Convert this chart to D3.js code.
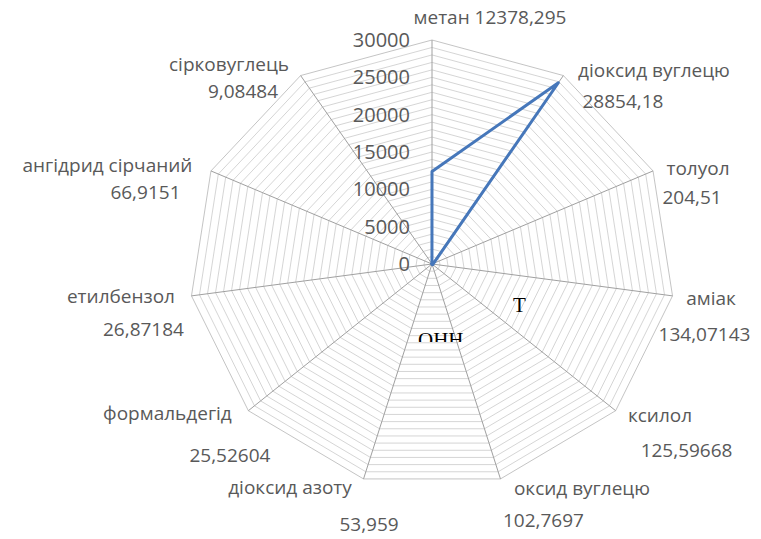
<!DOCTYPE html>
<html><head><meta charset="utf-8">
<script src="https://cdn.jsdelivr.net/npm/d3@7"></script>
<style>html,body{margin:0;padding:0;background:#fff;}svg{display:block;}</style>
</head><body>
<svg id="chart" width="761" height="539"></svg>
<script>
// ---- data ----
const categories = ["метан","діоксид вуглецю","толуол","аміак","ксилол","оксид вуглецю","діоксид азоту","формальдегід","етилбензол","ангідрид сірчаний","сірковуглець"];
const values = [12378.295, 28854.18, 204.51, 134.07143, 125.59668, 102.7697, 53.959, 25.52604, 26.87184, 66.9151, 9.08484];
const tickValues = [0, 5000, 10000, 15000, 20000, 25000, 30000];
const gridStep = 1000;
const maxValue = 30000;
// label layout: [nameDx, nameDy, valueDx, valueDy] relative to outer vertex (null value offset = same line)
const labelLayout = [
  [58, -16, null, null],
  [90.6, 1.5, 59.6, 32.5],
  [45, 4, 39, 33],
  [38.5, 9, 32, 45],
  [44.4, 11.3, 70.9, 46.3],
  [81.5, 16.1, 43, 48.1],
  [-73.5, 15.1, 5.5, 52.1],
  [-80.9, 9.3, -18.4, 51.3],
  [-70.5, 7.1, -48, 40.1],
  [-103.5, 1, -65.5, 28],
  [-71.6, -5, -57.6, 22.5]
];

const svg = d3.select("#chart");
const cx = 432, cy = 264, rx = 243, ry = 224;
const n = categories.length;
const r = d3.scaleLinear().domain([0, maxValue]).range([0, 1]);
const angle = d3.scaleLinear().domain([0, n]).range([0, 2 * Math.PI]);
const pt = (i, v) => [cx + rx * r(v) * Math.sin(angle(i)), cy - ry * r(v) * Math.cos(angle(i))];
const fmt = v => String(v).replace(".", ",");

// grid rings
const rings = d3.range(gridStep, maxValue + 1, gridStep);
svg.append("g").selectAll("polygon").data(rings).join("polygon")
  .attr("points", v => d3.range(n).map(i => pt(i, v).join(",")).join(" "))
  .attr("fill", "none")
  .attr("stroke", v => v === maxValue ? "#bdbdbd" : "#d0d0d0")
  .attr("stroke-width", 0.9);

// spokes
svg.append("g").selectAll("line").data(d3.range(n)).join("line")
  .attr("x1", cx).attr("y1", cy)
  .attr("x2", i => pt(i, maxValue)[0]).attr("y2", i => pt(i, maxValue)[1])
  .attr("stroke", "#a0a0a0").attr("stroke-width", 1);

// tick labels
svg.append("g").selectAll("text").data(tickValues).join("text")
  .attr("x", cx - 22).attr("y", v => pt(0, v)[1] + 7)
  .attr("text-anchor", "end")
  .attr("font-family", "Open Sans, sans-serif").attr("font-size", 20)
  .attr("fill", "#595959")
  .text(v => v);

// series
const line = d3.line().curve(d3.curveLinearClosed);
svg.append("path")
  .attr("d", line(values.map((v, i) => pt(i, v))))
  .attr("fill", "none").attr("stroke", "#4677ba").attr("stroke-width", 3)
  .attr("stroke-linejoin", "round");

// category/value labels
const lg = svg.append("g").attr("font-family", "Open Sans, sans-serif").attr("font-size", 19).attr("fill", "#595959").attr("text-anchor", "middle");
categories.forEach((c, i) => {
  const [vx, vy] = pt(i, maxValue);
  const L = labelLayout[i];
  if (L[2] === null) {
    lg.append("text").attr("x", vx + L[0]).attr("y", vy + L[1]).text(c + " " + fmt(values[i]));
  } else {
    lg.append("text").attr("x", vx + L[0]).attr("y", vy + L[1]).text(c);
    lg.append("text").attr("x", vx + L[2]).attr("y", vy + L[3]).text(fmt(values[i]));
  }
});

// stray text fragments present in the source image
const defs = svg.append("defs");
defs.append("clipPath").attr("id", "cut").append("rect").attr("x", 0).attr("y", 0).attr("width", 761).attr("height", 342);
const stray = svg.append("g").attr("font-family", "Liberation Serif, serif").attr("font-size", 21).attr("fill", "#000");
stray.append("text").attr("x", 513).attr("y", 312).text("Т");
stray.append("text").attr("x", 418).attr("y", 347).attr("clip-path", "url(#cut)").text("ОНН");
</script>
</body></html>
